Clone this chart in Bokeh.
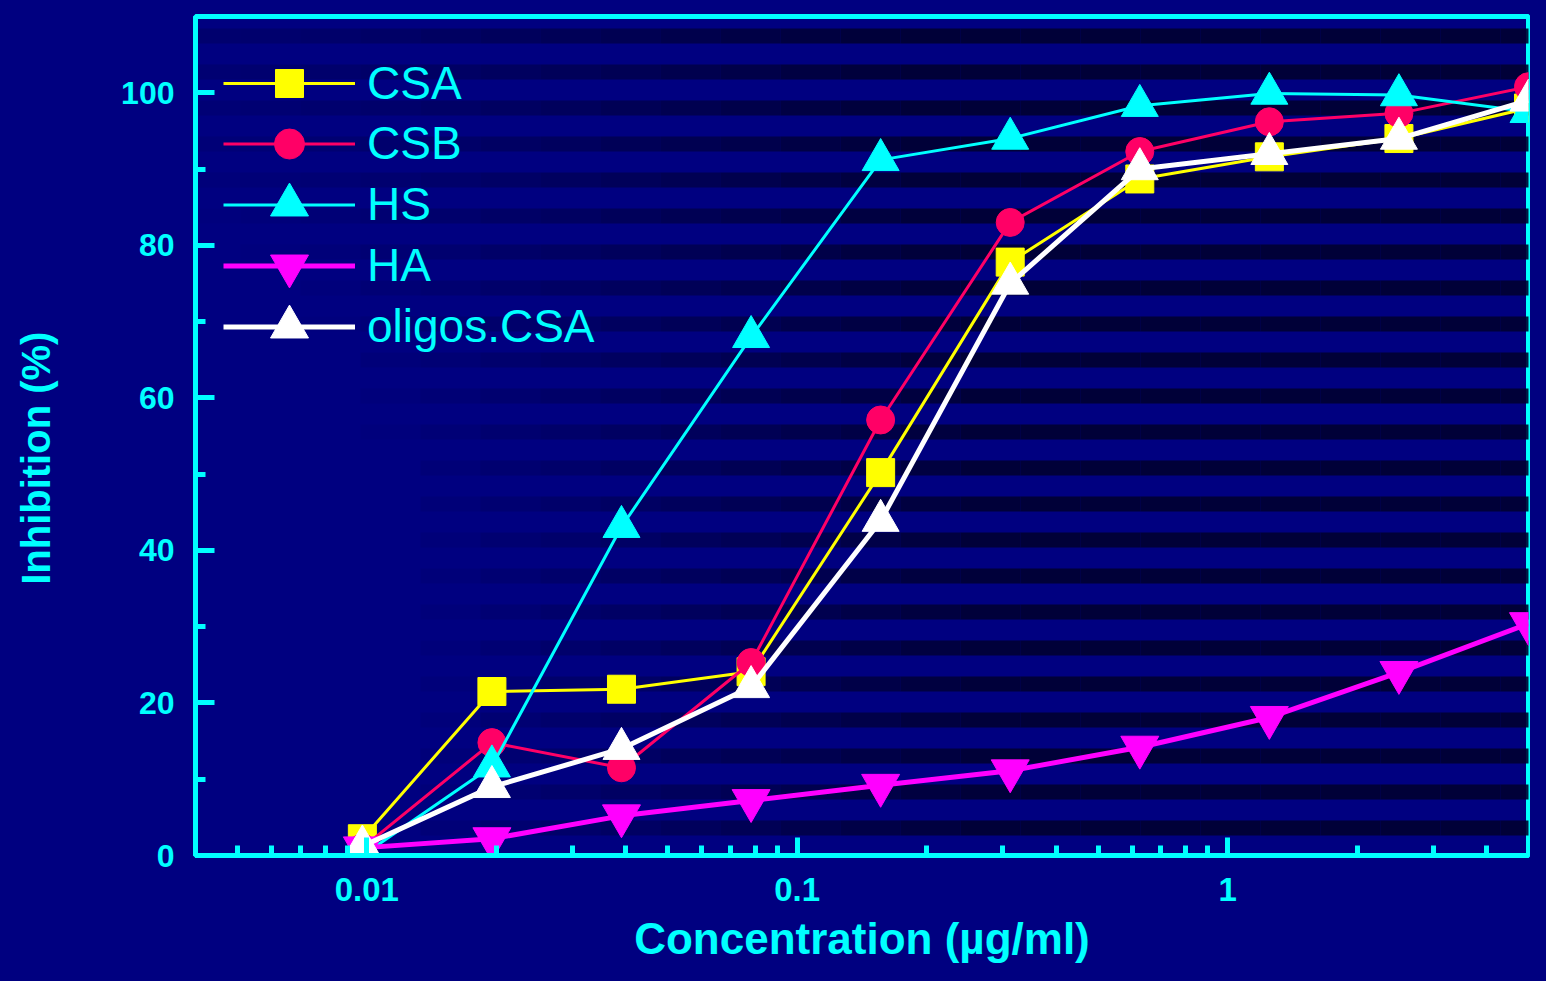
import numpy as np
from bokeh.plotting import figure
from bokeh.models import (Range1d, FixedTicker, Legend, LegendItem, BoxAnnotation,
                          CustomJSTickFormatter)
from bokeh.embed import file_html
from bokeh.resources import INLINE

# ---- data ----
conc = [0.009766, 0.01953, 0.03906, 0.07813, 0.15625, 0.3125, 0.625, 1.25, 2.5, 5.0]
csa = [2.2, 21.5, 21.8, 24.1, 50.2, 77.8, 88.7, 91.6, 94.0, 98.0]
csb = [1.0, 14.8, 11.5, 25.3, 57.1, 83.0, 92.3, 96.2, 97.3, 100.8]
hs = [0.0, 11.7, 43.1, 68.0, 91.2, 94.0, 98.3, 99.9, 99.7, 97.5]
ha = [1.0, 2.2, 5.2, 7.2, 9.2, 11.1, 14.2, 18.1, 24.0, 30.4]
oligos = [1.2, 9.0, 14.0, 22.1, 43.9, 75.0, 90.0, 92.0, 94.0, 99.0]

series_names = ["CSA", "CSB", "HS", "HA", "oligos.CSA"]
x_major = [0.01, 0.1, 1]
y_major = [0, 20, 40, 60, 80, 100]
y_minor = [10, 30, 50, 70, 90]
x_title = "Concentration (µg/ml)"
y_title = "Inhibition (%)"

NAVY = "#000080"
CYAN = "#00FFFF"
FONT = "Liberation Sans"

W, H = 1530, 965
FL, FR, FT, FB = 195, 1528, 16, 855  # frame edges on the canvas

p = figure(width=W, height=H, x_axis_type="log",
           x_range=Range1d(0.004, 5.0), y_range=Range1d(0, 110),
           output_backend="svg", toolbar_location=None,
           min_border_left=FL, min_border_right=W - FR,
           min_border_top=FT, min_border_bottom=H - FB)

p.background_fill_color = NAVY
p.border_fill_color = NAVY
p.outline_line_color = CYAN
p.outline_line_width = 5
p.xgrid.visible = False
p.ygrid.visible = False

# ---- background stripes (decoration) ----
seg_w = 60
for k in range(0, 28):
    cy = -0.5 + 36 * k
    for sx in range(0, W, seg_w):
        xc = sx + seg_w / 2
        d = np.hypot(xc - 100, (cy - 650) * 0.7)
        a = min(max((d - 300) / 600.0, 0.0), 1.0)
        if a <= 0.03:
            continue
        p.add_layout(BoxAnnotation(left=sx, right=sx + seg_w, top=cy - 7.5, bottom=cy + 7.5,
                                   left_units="canvas", right_units="canvas",
                                   top_units="canvas", bottom_units="canvas",
                                   fill_color="#000030", fill_alpha=a * 0.9,
                                   line_color=None, level="underlay"))

# ---- axes ----
xminor = [m * 10.0 ** e for e in (-3, -2, -1, 0) for m in range(2, 10)]
xminor = [v for v in xminor if 0.004 <= v <= 5.0]
p.xaxis.ticker = FixedTicker(ticks=x_major, minor_ticks=xminor)
p.xaxis.formatter = CustomJSTickFormatter(code="return tick.toString()")
p.yaxis.ticker = FixedTicker(ticks=y_major, minor_ticks=y_minor)

for ax in (p.xaxis[0], p.yaxis[0]):
    ax.axis_line_color = CYAN
    ax.axis_line_width = 5
    ax.major_tick_line_color = CYAN
    ax.minor_tick_line_color = CYAN
    ax.major_tick_line_width = 5
    ax.minor_tick_line_width = 5
    ax.major_tick_out = 0
    ax.minor_tick_out = 0
    ax.major_label_text_color = CYAN
    ax.major_label_text_font = FONT
    ax.major_label_text_font_style = "bold"
    ax.axis_label_text_color = CYAN
    ax.axis_label_text_font = FONT
    ax.axis_label_text_font_style = "bold"

p.xaxis.major_tick_in = 18
p.xaxis.minor_tick_in = 10
p.yaxis.major_tick_in = 19
p.yaxis.minor_tick_in = 10
p.xaxis.major_label_text_font_size = "33px"
p.yaxis.major_label_text_font_size = "32px"
p.xaxis.major_label_standoff = 22
p.yaxis.major_label_standoff = 21
p.xaxis.axis_label = x_title
# trailing no-break spaces shift the vertical title downwards, as in the reference
p.yaxis.axis_label = y_title + "\u00a0" * 4
p.xaxis.axis_label_text_font_size = "44px"
p.yaxis.axis_label_text_font_size = "40px"
p.xaxis.axis_label_standoff = 10
p.yaxis.axis_label_standoff = 60

# ---- series ----
styles = [
    (csa, "#FFFF00", "square", 28, 3),
    (csb, "#FF0066", "circle", 28, 3),
    (hs, "#00FFFF", "triangle", 37, 3),
    (ha, "#FF00FF", "inverted_triangle", 38, 5),
    (oligos, "#FFFFFF", "triangle", 37, 5),
]
# legend rows: centre of each row (canvas px) and glyph box height (sets marker size)
legend_rows = [(83, 70), (143, 75), (204, 95), (265, 95), (326, 95)]

for name, (vals, color, marker, size, lw), (cy, gh) in zip(series_names, styles, legend_rows):
    rl = p.line(conc, vals, line_color=color, line_width=lw)
    rm = p.scatter(conc, vals, marker=marker, size=size, fill_color=color,
                   line_color=color, line_width=1)
    lg = Legend(items=[LegendItem(label=name, renderers=[rl, rm])],
                location=(223 - FL, FB - (cy + gh / 2)),
                glyph_width=132, glyph_height=gh, label_height=gh,
                spacing=0, label_standoff=12, padding=0, margin=0,
                label_text_font=FONT, label_text_font_size="46px",
                label_text_color=CYAN, background_fill_alpha=0,
                border_line_alpha=0)
    p.add_layout(lg)

html = file_html(p, INLINE)
html = html.replace("</head>", "<style>html,body{background:#000080;}</style></head>", 1)
open("out.html", "w").write(html)
